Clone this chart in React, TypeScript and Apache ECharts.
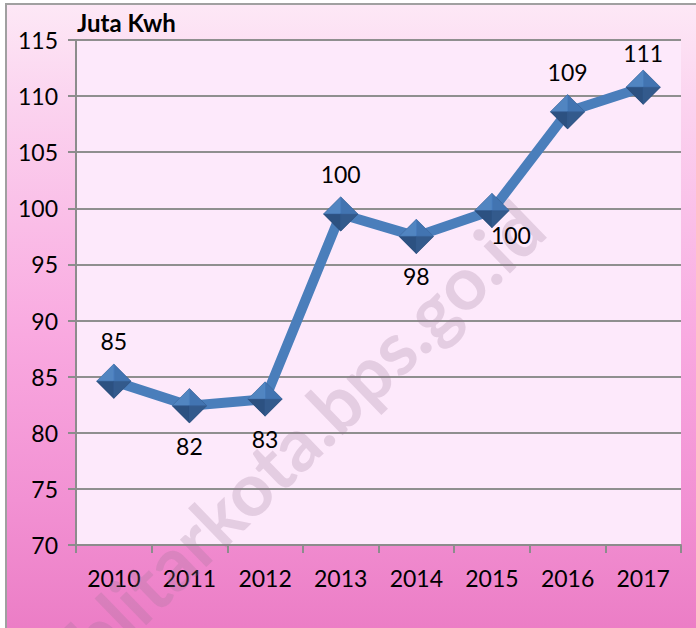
import React, { useEffect, useRef } from "react";
import * as echarts from "echarts";

const years = ["2010", "2011", "2012", "2013", "2014", "2015", "2016", "2017"];
const energy = [84.6, 82.4, 83.0, 99.5, 97.5, 99.8, 108.6, 110.8];
const yTicks = { min: 70, max: 115, interval: 5 };
const unitTitle = "Juta Kwh";
const watermark = "blitarkota.bps.go.id";

// label placement per point (styling only)
const labelPlace: Array<{ position: string; offset: number[] }> = [
  { position: "top", offset: [0, 0] },
  { position: "bottom", offset: [0, 0] },
  { position: "bottom", offset: [0, 0] },
  { position: "top", offset: [0, 0] },
  { position: "bottom", offset: [0, 0] },
  { position: "bottom", offset: [19, -16] },
  { position: "top", offset: [0, 0] },
  { position: "top", offset: [0, 6] },
];

const FONT = "Lato, 'Open Sans', sans-serif";

export default function App() {
  const ref = useRef<HTMLDivElement>(null);
  useEffect(() => {
    if (!ref.current) return;
    const chart = echarts.init(ref.current, undefined, { renderer: "svg" });
    const facet = (path: string, offset: number[], color: string) => ({
      type: "scatter",
      data: energy,
      symbol: path,
      symbolSize: 17,
      symbolOffset: offset,
      silent: true,
      z: 4,
      itemStyle: { color, borderColor: color, borderWidth: 0.6 },
    });
    chart.setOption({
      animation: false,
      backgroundColor: "transparent",
      textStyle: { fontFamily: FONT },
      grid: {
        left: 76,
        right: 15,
        top: 40,
        bottom: 83,
        show: true,
        backgroundColor: "#fde9fb",
        borderWidth: 0,
      },
      graphic: [
        {
          type: "text",
          left: 77,
          top: 10,
          style: {
            text: unitTitle,
            font: `bold 24px ${FONT}`,
            fill: "#000",
          },
        },
        {
          type: "text",
          x: 305,
          y: 432,
          rotation: (Math.PI / 180) * 44,
          z: 1,
          silent: true,
          style: {
            text: watermark,
            font: `bold 74px ${FONT}`,
            fill: "rgba(150,115,145,0.24)",
            align: "center",
            verticalAlign: "middle",
          },
        },
      ],
      xAxis: {
        type: "category",
        data: years,
        boundaryGap: true,
        axisLine: { show: true, lineStyle: { color: "#8c8c8c", width: 2 } },
        axisTick: { show: true, length: 8, lineStyle: { color: "#8c8c8c", width: 2 } },
        axisLabel: { color: "#000", fontSize: 23, margin: 21, fontFamily: FONT },
        splitLine: { show: false },
      },
      yAxis: {
        type: "value",
        min: yTicks.min,
        max: yTicks.max,
        interval: yTicks.interval,
        axisLine: { show: true, lineStyle: { color: "#8c8c8c", width: 2 } },
        axisTick: { show: true, length: 8, lineStyle: { color: "#8c8c8c", width: 2 } },
        axisLabel: { color: "#000", fontSize: 23, margin: 18, fontFamily: FONT },
        splitLine: { show: true, lineStyle: { color: "#8f8f8f", width: 2 } },
      },
      series: [
        {
          type: "line",
          data: energy.map((v, i) => ({
            value: v,
            label: { position: labelPlace[i].position, offset: labelPlace[i].offset },
          })),
          symbol: "diamond",
          symbolSize: 35,
          z: 3,
          lineStyle: { color: "#4a7ebb", width: 10, join: "round" },
          itemStyle: { color: "#27466f" },
          label: {
            show: true,
            fontSize: 23,
            color: "#000",
            distance: 11,
            fontFamily: FONT,
            formatter: (p: any) => String(Math.round(p.value)),
          },
          emphasis: { disabled: true },
        },
        facet("path://M0,1L1,0L1,1Z", [-8.5, -8.5], "#5c95d6"),
        facet("path://M0,0L1,1L0,1Z", [8.5, -8.5], "#4a80c2"),
        facet("path://M0,0L1,0L1,1Z", [-8.5, 8.5], "#2e5486"),
        facet("path://M0,0L1,0L0,1Z", [8.5, 8.5], "#375f93"),
      ],
    });
    return () => chart.dispose();
  }, []);

  return (
    <div style={{ position: "fixed", left: 0, top: 0, width: 696, height: 628, background: "#fff" }}>
      <div
        style={{
          position: "absolute",
          left: 5,
          top: 3,
          width: 720,
          height: 660,
          borderLeft: "2px solid #a0a0a0",
          borderTop: "2px solid #a0a0a0",
          background:
            "linear-gradient(to bottom, #fde8f6 0%, #fbd3ef 15%, #f9a9e0 50%, #f291d3 75%, #ea78c2 100%)",
        }}
      />
      <div ref={ref} style={{ position: "absolute", left: 0, top: 0, width: 696, height: 628 }} />
    </div>
  );
}
